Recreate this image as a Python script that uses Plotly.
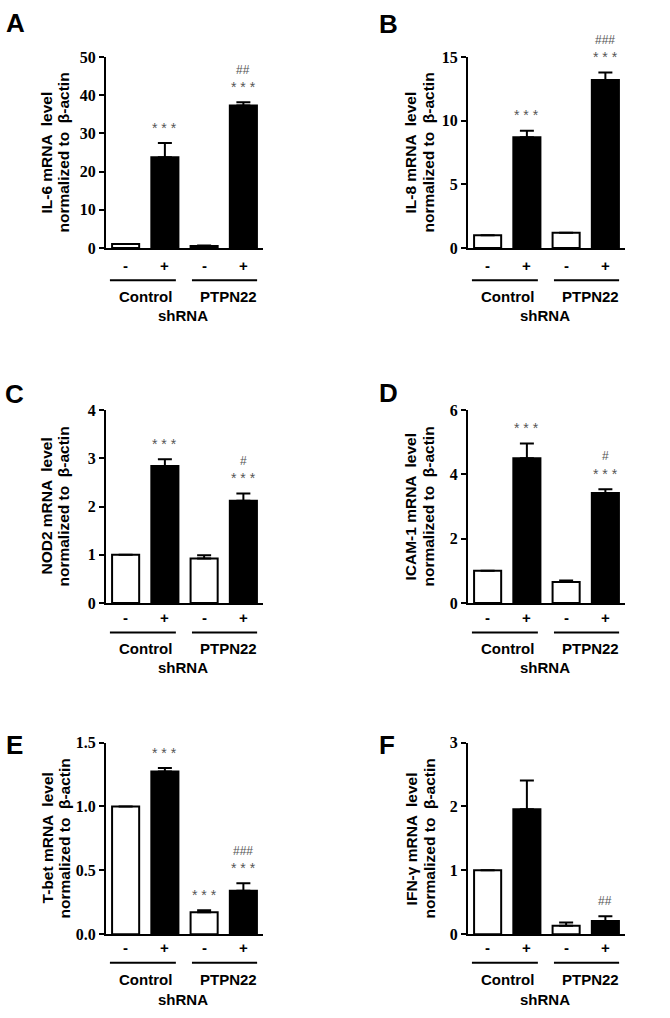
import plotly.graph_objects as go
from plotly.subplots import make_subplots

W, H = 670, 1018

# x categories (MDP treatment) under each bar
mdp = ["-", "+", "-", "+"]

# panel data: mean, SEM (upper only), significance marks
il6 = [1.0, 23.8, 0.5, 37.3]
il6_err = [0, 3.7, 0.15, 0.9]
il6_stars = ["", "***", "", "***"]
il6_hash = ["", "", "", "##"]

il8 = [1.0, 8.7, 1.2, 13.2]
il8_err = [0, 0.52, 0, 0.6]
il8_stars = ["", "***", "", "***"]
il8_hash = ["", "", "", "###"]

nod2 = [1.0, 2.84, 0.92, 2.12]
nod2_err = [0, 0.14, 0.07, 0.15]
nod2_stars = ["", "***", "", "***"]
nod2_hash = ["", "", "", "#"]

icam1 = [1.0, 4.5, 0.65, 3.42]
icam1_err = [0, 0.46, 0.05, 0.12]
icam1_stars = ["", "***", "", "***"]
icam1_hash = ["", "", "", "#"]

tbet = [1.0, 1.274, 0.172, 0.34]
tbet_err = [0, 0.026, 0.016, 0.06]
tbet_stars = ["", "***", "***", "***"]
tbet_hash = ["", "", "", "###"]

ifng = [1.0, 1.955, 0.134, 0.206]
ifng_err = [0, 0.45, 0.05, 0.077]
ifng_stars = ["", "", "", ""]
ifng_hash = ["", "", "", "##"]

panels = [
    dict(letter="A", gene="IL-6", mean=il6, err=il6_err, stars=il6_stars, hashes=il6_hash,
         ymax=50, ticks=[0, 10, 20, 30, 40, 50]),
    dict(letter="B", gene="IL-8", mean=il8, err=il8_err, stars=il8_stars, hashes=il8_hash,
         ymax=15, ticks=[0, 5, 10, 15]),
    dict(letter="C", gene="NOD2", mean=nod2, err=nod2_err, stars=nod2_stars, hashes=nod2_hash,
         ymax=4, ticks=[0, 1, 2, 3, 4]),
    dict(letter="D", gene="ICAM-1", mean=icam1, err=icam1_err, stars=icam1_stars, hashes=icam1_hash,
         ymax=6, ticks=[0, 2, 4, 6]),
    dict(letter="E", gene="T-bet", mean=tbet, err=tbet_err, stars=tbet_stars, hashes=tbet_hash,
         ymax=1.5, ticks=[0, 0.5, 1.0, 1.5], fmt=".1f"),
    dict(letter="F", gene="IFN-γ", mean=ifng, err=ifng_err, stars=ifng_stars, hashes=ifng_hash,
         ymax=3, ticks=[0, 1, 2, 3]),
]

# layout in pixels
col_x = [(106, 263), (468, 625)]
row_y = [(50, 244), (409, 605), (747, 942)]
# offsets below the x axis: tick label, bracket line, group label, shRNA
row_off = [(18, 33, 49, 69), (15, 30, 46, 66), (13, 29, 46, 66)]
title_x = [(47, 64), (411, 429)]
letter_pos = [(15, 15), (388, 16), (14, 393), (388, 392), (14, 750), (387, 750)]


def px(x):
    return x / W


def py(y):
    return 1 - y / H


fig = make_subplots(rows=3, cols=2)

sans = "Arial, Liberation Sans, sans-serif"
serif = "Times New Roman, Liberation Serif, serif"
bold = dict(family=sans, color="black", weight="bold")

annotations = []
shapes = []

for i, p in enumerate(panels):
    r, c = i // 2, i % 2
    n = "" if i == 0 else str(i + 1)
    ymax = p["ymax"]
    fig.add_trace(go.Bar(
        x=[0, 1, 2, 3],
        y=p["mean"],
        width=0.69,
        marker=dict(color=["white", "black", "white", "black"],
                    line=dict(color="black", width=2)),
        error_y=dict(type="data", array=p["err"], arrayminus=[0] * 4, symmetric=False,
                     color="black", thickness=2, width=7),
        hoverinfo="skip",
    ), row=r + 1, col=c + 1)

    x0, x1 = col_x[c]
    y0, y1 = row_y[r]
    off = row_off[r]
    fig.layout["xaxis" + n].update(
        domain=[px(x0), px(x1)], range=[-0.5, 3.5],
        showticklabels=False, ticks="",
        showline=True, linecolor="black", linewidth=2,
        showgrid=False, zeroline=False,
    )
    fig.layout["yaxis" + n].update(
        domain=[py(y1), py(y0)], range=[0, ymax],
        tickvals=p["ticks"], tickformat=p.get("fmt", "d"),
        showline=True, linecolor="black", linewidth=2,
        ticks="outside", ticklen=5, tickwidth=2, tickcolor="black",
        tickfont=dict(family=serif, size=16, color="black", weight="bold"),
        showgrid=False, zeroline=False,
    )

    xr = "x" + n
    ydom = "y" + n + " domain"

    # significance marks above the error bars (domain fraction so they may sit above the axis top)
    for k in range(4):
        ys = (p["mean"][k] + p["err"][k]) / ymax + 0.08
        if p["stars"][k]:
            annotations.append(dict(x=k, y=ys, xref=xr, yref=ydom, text=" ".join(p["stars"][k]),
                                    showarrow=False, yanchor="middle",
                                    font=dict(family=sans, size=14, color="#555")))
            ys += 0.09
        if p["hashes"][k]:
            annotations.append(dict(x=k, y=ys, xref=xr, yref=ydom, text=p["hashes"][k],
                                    showarrow=False, yanchor="middle",
                                    font=dict(family=sans, size=12, color="#555")))

    # MDP -/+ labels under bars
    for k, lab in enumerate(mdp):
        annotations.append(dict(x=k, y=py(y1 + off[0]), xref=xr, yref="paper", text=lab,
                                showarrow=False, yanchor="middle", font=dict(bold, size=15)))
    annotations.append(dict(x=3.55, y=py(y1 + off[0]), xref=xr, yref="paper", text="MDP",
                            showarrow=False, xanchor="left", yanchor="middle",
                            font=dict(bold, size=15)))
    # group brackets
    for a, b in [(-0.4, 1.28), (1.69, 3.35)]:
        shapes.append(dict(type="line", xref=xr, yref="paper", x0=a, x1=b,
                           y0=py(y1 + off[1]), y1=py(y1 + off[1]),
                           line=dict(color="black", width=2)))
    annotations.append(dict(x=0.5, y=py(y1 + off[2]), xref=xr, yref="paper", text="Control",
                            showarrow=False, yanchor="middle", font=dict(bold, size=15)))
    annotations.append(dict(x=2.63, y=py(y1 + off[2]), xref=xr, yref="paper", text="PTPN22",
                            showarrow=False, yanchor="middle", font=dict(bold, size=15)))
    annotations.append(dict(x=1.45, y=py(y1 + off[3]), xref=xr, yref="paper", text="shRNA",
                            showarrow=False, yanchor="middle", font=dict(bold, size=15)))

    # y axis title (two lines)
    ymid = py((y0 + y1) / 2)
    for tx, txt in zip(title_x[c], [p["gene"] + " mRNA  level", "normalized to  β-actin"]):
        annotations.append(dict(x=px(tx), y=ymid, xref="paper", yref="paper", text=txt,
                                textangle=-90, showarrow=False,
                                xanchor="center", yanchor="middle",
                                font=dict(bold, size=15.5)))

    # panel letter
    lx, ly = letter_pos[i]
    annotations.append(dict(x=px(lx), y=py(ly), xref="paper", yref="paper", text=p["letter"],
                            showarrow=False, xanchor="center", yanchor="middle",
                            font=dict(bold, size=26)))

fig.update_layout(
    width=W, height=H,
    margin=dict(l=0, r=0, t=0, b=0),
    paper_bgcolor="white", plot_bgcolor="white",
    showlegend=False,
    annotations=annotations,
    shapes=shapes,
)

fig.write_html("out.html", config={"displayModeBar": False},
               post_script="document.body.style.margin='0';")
